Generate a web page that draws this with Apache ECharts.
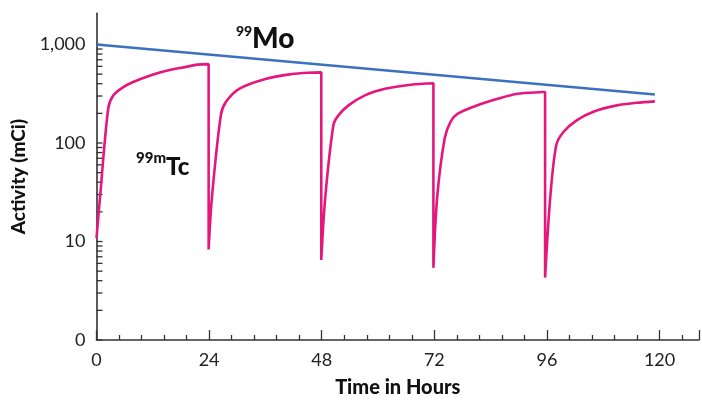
<!DOCTYPE html>
<html><head><meta charset="utf-8">
<script src="https://cdn.jsdelivr.net/npm/echarts@6/dist/echarts.min.js"></script>
<style>html,body{margin:0;padding:0;background:#fff}#c{width:702px;height:403px}</style>
</head><body><div id="c"></div>
<script>
// 99Mo parent activity (mCi) vs time (hours)
const moHours = [0, 119];
const moActivity = [1000, 311];

// 99mTc daughter activity (mCi), eluted every ~24 h
const tcHours = [
  0, 0.75, 2.5, 3.6, 5.7, 7.7, 11.3, 14.9, 19.1, 21.5, 23.9, 23.9,
  24.6, 26.5, 27.6, 30.4, 36.0, 41.6, 45.0, 47.9, 47.9,
  48.75, 50.5, 51.6, 53.7, 57.2, 61.5, 67.0, 71.8, 71.8,
  72.6, 74.2, 75.5, 77.0, 81.2, 85.5, 89.7, 95.0, 95.6, 95.6,
  96.7, 98.0, 99.6, 102.4, 105.9, 110.9, 115.1, 119
];
const tcActivity = [
  10.8, 28, 224, 305, 369, 414, 482, 541, 593, 625, 632, 8.3,
  28, 192, 262, 355, 447, 501, 517, 521, 6.5,
  28, 153, 192, 241, 305, 355, 391, 405, 5.4,
  28, 112, 166, 199, 242, 281, 316, 329, 330, 4.3,
  28, 96, 131, 171, 208, 241, 256, 265
];

const xTickLabels = [0, 24, 48, 72, 96, 120];
const yDecades = [1, 10, 100, 1000];
const yDecadeLabels = ['0', '10', '100', '1,000'];
const yMinorTicks = [2,3,4,5,6,7,8,9,20,30,40,50,60,70,80,90,200,300,400,500,600,700,800,900];

const FONT = 'Lato';
const AXIS = '#333333';

const chart = echarts.init(document.getElementById('c'), null, {renderer: 'canvas'});

const pair = (xs, ys) => xs.map((x, i) => [x, ys[i]]);

const yTickData = yDecades.map(v => [0, v, 1]).concat(yMinorTicks.map(v => [0, v, 0]));

chart.setOption({
  animation: false,
  backgroundColor: '#ffffff',
  grid: {left: 96.5, right: 0, top: 13.3, bottom: 57.7, containLabel: false},
  xAxis: {
    type: 'value', min: 0, max: 128.4, interval: 24,
    name: 'Time in Hours', nameLocation: 'middle', nameGap: 38,
    nameTextStyle: {fontFamily: FONT, fontWeight: 900, fontSize: 20, color: '#111'},
    axisLine: {show: true, onZero: false, lineStyle: {color: AXIS, width: 1.6}},
    axisTick: {show: true, inside: true, length: 10, lineStyle: {color: AXIS, width: 1.3}},
    minorTick: {show: true, splitNumber: 5, length: 5, lineStyle: {color: AXIS, width: 1.3}},
    splitLine: {show: false}, minorSplitLine: {show: false},
    axisLabel: {
      fontFamily: FONT, fontSize: 18, color: '#222', margin: 11,
      formatter: v => xTickLabels.indexOf(Math.round(v)) >= 0 && Math.abs(v - Math.round(v)) < 1e-6 ? String(Math.round(v)) : ''
    }
  },
  yAxis: {
    type: 'log', logBase: 10, min: 1, max: 2075,
    name: 'Activity (mCi)', nameLocation: 'middle', nameGap: 57,
    nameTextStyle: {fontFamily: FONT, fontWeight: 900, fontSize: 19, color: '#111'},
    axisLine: {show: true, lineStyle: {color: AXIS, width: 1.6}},
    axisTick: {show: false}, splitLine: {show: false},
    axisLabel: {
      fontFamily: FONT, fontSize: 18, color: '#222', margin: 11,
      formatter: v => {
        for (let i = 0; i < yDecades.length; i++) {
          if (Math.abs(v - yDecades[i]) / yDecades[i] < 1e-6) return yDecadeLabels[i];
        }
        return '';
      }
    }
  },
  series: [
    {
      name: 'yticks', type: 'custom', clip: false, silent: true, z: 1,
      data: yTickData,
      encode: {x: 0, y: 1},
      renderItem: (params, api) => {
        const p = api.coord([api.value(0), api.value(1)]);
        const len = 6;
        return {type: 'line', shape: {x1: p[0], y1: p[1], x2: p[0] + len, y2: p[1]},
          style: {stroke: AXIS, lineWidth: 1.3}};
      }
    },
    {
      name: '99Mo', type: 'line', data: pair(moHours, moActivity),
      showSymbol: false, symbol: 'none', z: 3,
      lineStyle: {color: '#3c71bd', width: 2.6}
    },
    {
      name: '99mTc', type: 'line', data: pair(tcHours, tcActivity),
      showSymbol: false, symbol: 'none', smooth: 0.3, z: 4,
      lineStyle: {color: '#e5177e', width: 2.6}
    }
  ],
  graphic: [
    {type: 'text', left: 236, top: 24, style: {text: '99', font: '900 14px Lato', fill: '#111'}},
    {type: 'text', left: 252, top: 25, style: {text: 'Mo', font: '900 28px Lato', fill: '#111'}},
    {type: 'text', left: 136, top: 151, style: {text: '99m', font: '900 15px Lato', fill: '#111'}},
    {type: 'text', left: 166, top: 155, style: {text: 'Tc', font: '900 24px Lato', fill: '#111'}}
  ]
});
</script>
</body></html>
